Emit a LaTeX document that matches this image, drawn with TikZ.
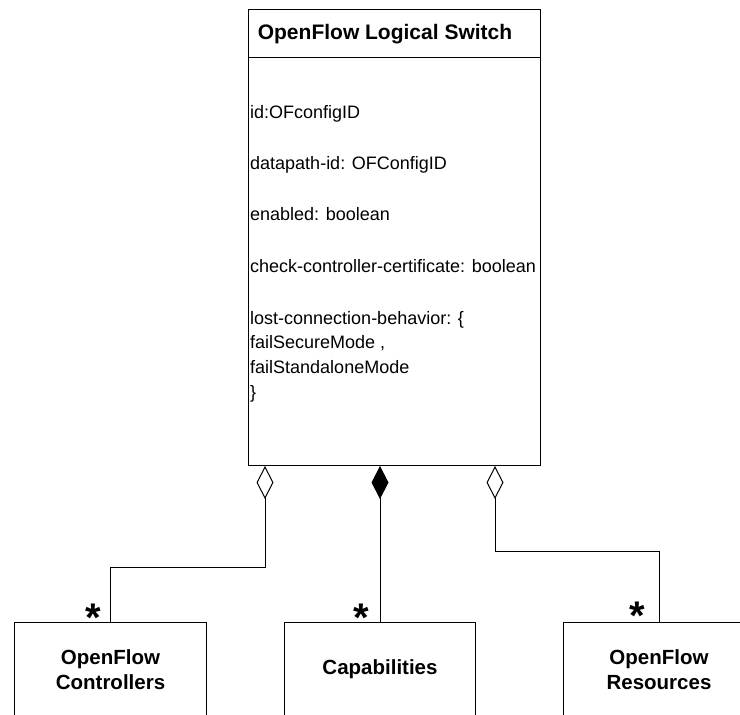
\documentclass[tikz,border=0pt]{standalone}
\usepackage{fontspec}
\setmainfont{Liberation Sans}
\usetikzlibrary{arrows.meta,calc}
\begin{document}
\begin{tikzpicture}[x=1pt,y=-1pt,
  umlline/.style={draw=black,line width=1pt},
  frame/.style={draw=black,line width=1pt,rectangle,inner sep=0pt,anchor=north west},
  classbox/.style={frame,minimum height=94pt,align=center,
    font=\fontsize{20.5}{25}\selectfont\bfseries},
  attr/.style={anchor=base west,inner sep=0pt,font=\fontsize{18}{25}\selectfont},
  mult/.style={anchor=north,inner sep=0pt,font=\fontsize{40}{40}\selectfont\bfseries},
  aggr/.style={umlline,{Diamond[open,length=33pt,width=17pt]}-},
  comp/.style={umlline,{Diamond[length=33pt,width=17pt]}-},
]
\useasboundingbox (0,0) rectangle (740,715);
\clip (0,0) rectangle (740,715);

% class: OpenFlow Logical Switch
\node[frame,minimum width=292pt,minimum height=48pt] (title) at (248,9) {};
\node[frame,minimum width=292pt,minimum height=408pt] (body) at (248,57) {};
\node[anchor=base,inner sep=0pt,font=\fontsize{21}{25}\selectfont\bfseries]
  (titletext) at (385,39) {OpenFlow Logical Switch};

% attributes
\node[attr] (a1) at (250,118) {id:OFconfigID};
\node[attr] (a2) at (250,169) {datapath-id: OFConfigID};
\node[attr] (a3) at (250,220) {enabled: boolean};
\node[attr] (a4) at (250,272) {check-controller-certificate: boolean};
\node[attr] (a5) at (250,324) {lost-connection-behavior: \{};
\node[attr] (a6) at (250,348) {failSecureMode ,};
\node[attr] (a7) at (250,373) {failStandaloneMode};
\node[attr] (a8) at (250,398) {\}};

% component classes
\node[classbox,minimum width=192pt] (ctrl) at (14,622) {OpenFlow\\Controllers};
\node[classbox,minimum width=191pt] (caps) at (284,622) {Capabilities};
\node[classbox,minimum width=191pt] (res) at (563,622) {OpenFlow\\Resources};

% associations
\draw[aggr] ($(body.south west)+(17,0)$) -- ++(0,101) -| (ctrl.north);
\draw[comp] (caps.north |- body.south) -- (caps.north);
\draw[aggr] ($(body.south west)+(247,0)$) -- ++(0,85) -| (res.north);

% multiplicities
\node[mult] (m1) at ($(ctrl.north)+(-17,-18)$) {*};
\node[mult] (m2) at ($(caps.north)+(-19,-18)$) {*};
\node[mult] (m3) at ($(res.north)+(-22,-20)$) {*};
\end{tikzpicture}
\end{document}
